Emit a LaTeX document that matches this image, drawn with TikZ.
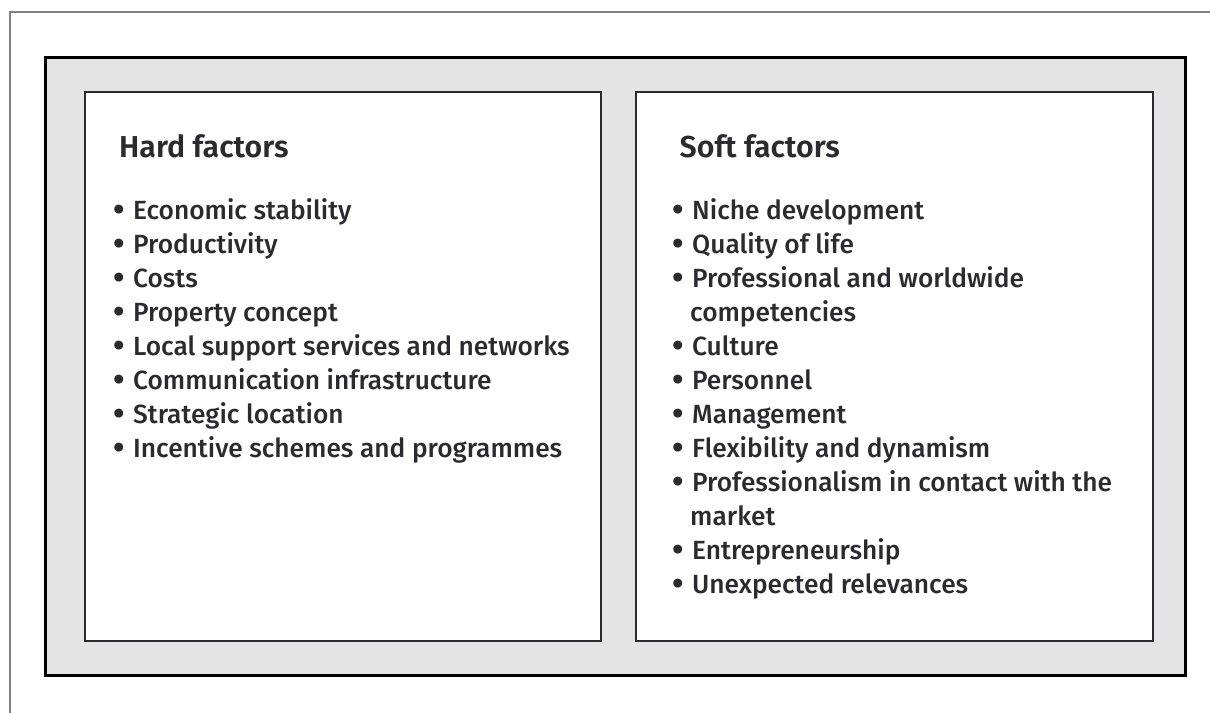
\documentclass[tikz,border=0pt]{standalone}
\usepackage{fontspec}
\setmainfont{Fira Sans}[UprightFont=* Medium, BoldFont=* SemiBold]
\newfontfamily\bulletfont{Fira Sans}[UprightFont=* Black]
\usepackage{tikz}
\definecolor{panelgray}{HTML}{E4E4E4}
\definecolor{framegray}{HTML}{808080}
\definecolor{inkdark}{HTML}{2A2A30}
\newcommand{\bigbullet}{\makebox[18.5pt][l]{\hspace*{-1pt}{\bulletfont\fontsize{29}{34}\selectfont\textbullet}}}
\tikzset{
	panelstyle/.style={draw=black,line width=3pt,fill=panelgray},
	boxstyle/.style={draw=inkdark,line width=2pt,fill=white},
	headstyle/.style={anchor=base west,inner sep=0pt,text=inkdark,font=\fontsize{30.3}{36}\selectfont\bfseries},
	itemstyle/.style={anchor=base west,inner sep=0pt,text=inkdark,font=\fontsize{26.3}{34}\selectfont}
}

\begin{document}
\begin{tikzpicture}[x=1pt,y=-1pt]
	\useasboundingbox (0,0) rectangle (1210,713);
	\draw[framegray,line width=1.2pt] (10,713)--(10,12)--(1210,12);
	\node[panelstyle,minimum width=1140pt,minimum height=618pt,inner sep=0pt] (panel) at (615.5,366) {};
	\node[boxstyle,minimum width=516.5pt,minimum height=548.5pt,inner sep=0pt] (hard) at (342.75,366.5) {};
	\node[boxstyle,minimum width=517pt,minimum height=548.5pt,inner sep=0pt] (soft) at (894,366.5) {};
	% hard factors
	\node[headstyle] (hardhead) at (119,157) {Hard factors};
	\node[itemstyle] (h1) at (114.5,219) {\bigbullet Economic stability};
	\node[itemstyle] (h2) at (114.5,253) {\bigbullet Productivity};
	\node[itemstyle] (h3) at (114.5,287) {\bigbullet Costs};
	\node[itemstyle] (h4) at (114.5,321) {\bigbullet Property concept};
	\node[itemstyle] (h5) at (114.5,355) {\bigbullet Local support services and networks};
	\node[itemstyle] (h6) at (114.5,389) {\bigbullet Communication infrastructure};
	\node[itemstyle] (h7) at (114.5,423) {\bigbullet Strategic location};
	\node[itemstyle] (h8) at (114.5,457) {\bigbullet Incentive schemes and programmes};
	% soft factors
	\node[headstyle] (softhead) at (679.5,157) {Soft factors};
	\node[itemstyle] (s1) at (673.5,219) {\bigbullet Niche development};
	\node[itemstyle] (s2) at (673.5,253) {\bigbullet Quality of life};
	\node[itemstyle] (s3) at (673.5,287) {\bigbullet Professional and worldwide};
	\node[itemstyle] (s3b) at (690,321) {competencies};
	\node[itemstyle] (s4) at (673.5,355) {\bigbullet Culture};
	\node[itemstyle] (s5) at (673.5,389) {\bigbullet Personnel};
	\node[itemstyle] (s6) at (673.5,423) {\bigbullet Management};
	\node[itemstyle] (s7) at (673.5,457) {\bigbullet Flexibility and dynamism};
	\node[itemstyle] (s8) at (673.5,491) {\bigbullet Professionalism in contact with the};
	\node[itemstyle] (s8b) at (690,525) {market};
	\node[itemstyle] (s9) at (673.5,559) {\bigbullet Entrepreneurship};
	\node[itemstyle] (s10) at (673.5,593) {\bigbullet Unexpected relevances};
\end{tikzpicture}
\end{document}
